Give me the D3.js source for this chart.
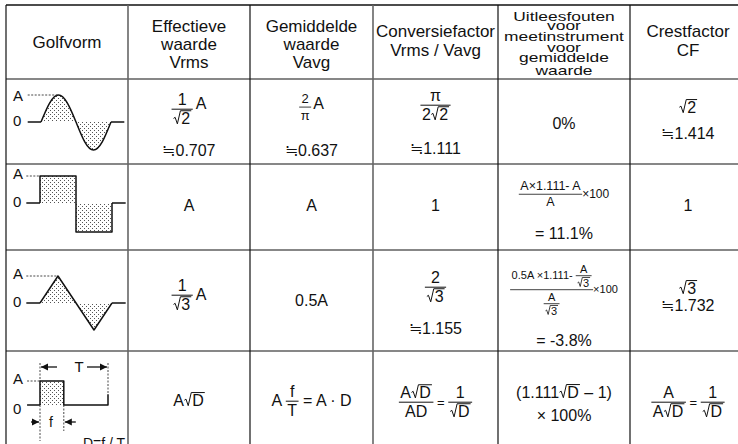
<!DOCTYPE html>
<html>
<head>
<meta charset="utf-8">
<script src="https://cdn.jsdelivr.net/npm/d3@7"></script>
<style>
  body { margin: 0; background: #fff; }
  svg { display: block; }
  text { font-family: "Liberation Sans", Arial, sans-serif; fill: #111; }
</style>
</head>
<body>
<svg id="chart" width="738" height="444"></svg>
<script>
// header labels, one array per column
var headers = [
  ["Golfvorm"],
  ["Effectieve", "waarde", "Vrms"],
  ["Gemiddelde", "waarde", "Vavg"],
  ["Conversiefactor", "Vrms / Vavg"],
  ["Uitleesfouten", "voor", "meetinstrument", "voor", "gemiddelde", "waarde"],
  ["Crestfactor", "CF"]
];

// waveforms: time as fraction of a period, value as fraction of A
var sineT = [0, 0.125, 0.25, 0.375, 0.5, 0.625, 0.75, 0.875, 1];
var sineV = [0, 0.71, 1, 0.71, 0, -0.71, -1, -0.71, 0];
var squareT = [0, 0, 0.5, 0.5, 1, 1];
var squareV = [0, 1, 1, -1, -1, 0];
var triangleT = [0, 0.25, 0.75, 1];
var triangleV = [0, 1, -1, 0];
var pulseT = [0, 0, 0.35, 0.35, 1, 1];
var pulseV = [0, 1, 1, 0, 0, 0.45];

// cell contents (lines of formula items)
var vrmsCells = [
  [[{frac: [["1"], [{sqrt: "2"}]]}, {sp: 3}, {t: "A", dy: -5}], ["≒0.707"]],
  [["A"]],
  [[{frac: [["1"], [{sqrt: "3"}]]}, {sp: 3}, "A"]],
  [["A", {sqrt: "D"}]]
];
var vavgCells = [
  [[{frac: [["2"], ["π"]], size: 13}, {sp: 2}, {t: "A", dy: -2}], ["≒0.637"]],
  [["A"]],
  [["0.5A"]],
  [["A ", {frac: [["f"], ["T"]]}, {t: " = A · D"}]]
];
var convCells = [
  [[{frac: [["π"], ["2", {sqrt: "2"}]]}], ["≒1.111"]],
  [["1"]],
  [[{frac: [["2"], [{sqrt: "3"}]]}], ["≒1.155"]],
  [[{frac: [["A", {sqrt: "D"}], ["AD"]]}, {t: " = ", size: 13}, {frac: [["1"], [{sqrt: "D"}]]}]]
];
var errorCells = [
  [["0%"]],
  [[{frac: [["A×1.111- A"], ["A"]], size: 12.5}, {t: "×100", size: 12}], ["= 11.1%"]],
  [[{frac: [["0.5A ×1.111- ", {frac: [["A"], [{sqrt: "3"}]]}], [{frac: [["A"], [{sqrt: "3"}]]}]], size: 11}, {t: "×100", size: 11}], ["= -3.8%"]],
  [["(1.111", {sqrt: "D"}, " – 1)"], ["× 100%"]]
];
var crestCells = [
  [[{sqrt: "2"}], ["≒1.414"]],
  [["1"]],
  [[{sqrt: "3"}], ["≒1.732"]],
  [[{frac: [["A"], ["A", {sqrt: "D"}]]}, {t: " = ", size: 13}, {frac: [["1"], [{sqrt: "D"}]]}]]
];

var svg = d3.select("#chart");
var ink = "#111";

var colX = [6, 128, 250, 373, 498, 630, 746];
var rowY = [5, 79, 164, 250, 351];
var colMid = d3.range(6).map(function(i) { return (colX[i] + colX[i + 1]) / 2; });

// stipple pattern
var pat = svg.append("defs").append("pattern")
  .attr("id", "dots").attr("width", 4).attr("height", 4)
  .attr("patternUnits", "userSpaceOnUse");
pat.append("rect").attr("x", 0).attr("y", 0).attr("width", 1).attr("height", 1).attr("fill", "#555");
pat.append("rect").attr("x", 2).attr("y", 2).attr("width", 1).attr("height", 1).attr("fill", "#555");

// grid
svg.append("line").attr("x1", colX[0]).attr("x2", 738).attr("y1", rowY[0]).attr("y2", rowY[0])
  .attr("stroke", ink).attr("stroke-width", 1.3);
rowY.slice(1).forEach(function(y) {
  svg.append("line").attr("x1", colX[0]).attr("x2", 738).attr("y1", y).attr("y2", y)
    .attr("stroke", ink).attr("stroke-width", 1.2);
});
colX.slice(0, 6).forEach(function(x, i) {
  var grey = (i == 1 || i == 3);
  svg.append("line").attr("x1", x).attr("x2", x).attr("y1", rowY[0]).attr("y2", 444)
    .attr("stroke", grey ? "#666" : ink).attr("stroke-width", grey ? 1.6 : 1.2);
});

// formula layout
function drawSeq(g, items, size) {
  var x = 0;
  items.forEach(function(it) {
    if (typeof it === "string") it = {t: it};
    var s = it.size || size;
    if (it.t != null) {
      var t = g.append("text").attr("x", x).attr("y", it.dy || 0)
        .attr("font-size", s).attr("xml:space", "preserve").text(it.t);
      x += t.node().getComputedTextLength();
    } else if (it.sqrt != null) {
      var rw = 0.52 * s;
      var t = g.append("text").attr("x", x + rw).attr("font-size", s).text(it.sqrt);
      var tw = t.node().getComputedTextLength();
      g.append("path")
        .attr("d", "M" + (x + 0.03 * s) + "," + (-0.36 * s) +
          "L" + (x + 0.13 * s) + "," + (-0.43 * s) +
          "L" + (x + 0.27 * s) + "," + (-0.02 * s) +
          "L" + (x + 0.46 * s) + "," + (-0.84 * s) +
          "H" + (x + rw + tw + 1))
        .attr("fill", "none").attr("stroke", ink)
        .attr("stroke-width", Math.max(0.8, s / 16));
      x += rw + tw + 1;
    } else if (it.frac) {
      var gn = g.append("g"), gd = g.append("g");
      var wn = drawSeq(gn, it.frac[0], s), wd = drawSeq(gd, it.frac[1], s);
      var w = Math.max(wn, wd) + 3;
      var bar = -0.3 * s;
      var bn = gn.node().getBBox(), bd = gd.node().getBBox();
      gn.attr("transform", "translate(" + (x + (w - wn) / 2) + "," + (bar - 1 - (bn.y + bn.height)) + ")");
      gd.attr("transform", "translate(" + (x + (w - wd) / 2) + "," + (bar + 1 - bd.y) + ")");
      g.append("line").attr("x1", x).attr("x2", x + w).attr("y1", bar).attr("y2", bar)
        .attr("stroke", ink).attr("stroke-width", Math.max(0.8, s / 16));
      x += w;
    } else if (it.sp) {
      x += it.sp;
    }
  });
  return x;
}

function put(items, size, cx, baseline) {
  var g = svg.append("g");
  var w = drawSeq(g, items, size);
  g.attr("transform", "translate(" + (cx - w / 2) + "," + baseline + ")");
}

// header
var hdrBase = [[48], [32, 50, 68], [32, 50, 68], [37, 56], [21, 30, 41, 52, 62, 75], [37, 56]];
headers.forEach(function(lines, c) {
  lines.forEach(function(s, k) {
    var t = svg.append("text").attr("text-anchor", "middle")
      .attr("font-size", c == 4 ? 12 : 17).text(s);
    if (c == 4) {
      t.attr("transform", "translate(" + colMid[c] + "," + hdrBase[c][k] + ") scale(1.45,1)");
    } else {
      t.attr("x", colMid[c]).attr("y", hdrBase[c][k]);
    }
  });
});

// body cells: baselines per row per column
var cols = [vrmsCells, vavgCells, convCells, errorCells, crestCells];
var cellBase = [
  [[114, 156], [111, 156], [110, 154], [129], [113, 139]],
  [[211], [211], [211], [198, 239], [211]],
  [[300], [306], [292, 334], [293, 346], [294, 311]],
  [[406], [406], [407], [398, 421], [407]]
];
cols.forEach(function(cells, c) {
  cells.forEach(function(lines, r) {
    lines.forEach(function(items, k) {
      put(items, 16, colMid[c + 1], cellBase[r][c][k]);
    });
  });
});

// waveforms
var waves = [
  {t: sineT, v: sineV, curve: d3.curveNatural, zero: 122, up: 27, dn: 28, x0: 41, x1: 111, tail: true},
  {t: squareT, v: squareV, curve: d3.curveLinear, zero: 203, up: 27, dn: 29, x0: 40, x1: 112, tail: true},
  {t: triangleT, v: triangleV, curve: d3.curveLinear, zero: 303, up: 27, dn: 27, x0: 40, x1: 112, tail: true},
  {t: pulseT, v: pulseV, curve: d3.curveLinear, zero: 405, up: 24, dn: 24, x0: 40, x1: 108, tail: false}
];

waves.forEach(function(w, r) {
  var x = d3.scaleLinear().domain([0, 1]).range([w.x0, w.x1]);
  var y = d3.scaleLinear().domain([-1, 0, 1]).range([w.zero + w.dn, w.zero, w.zero - w.up]);
  var pts = w.t.map(function(t, i) { return [t, w.v[i]]; });
  var shade = r == 3 ? pts.slice(0, 4) : pts;

  svg.append("path")
    .attr("d", d3.area().x(function(d) { return x(d[0]); }).y0(y(0)).y1(function(d) { return y(d[1]); }).curve(w.curve)(shade))
    .attr("fill", "url(#dots)");

  // zero-level lead-in and tail
  svg.append("path").attr("fill", "none").attr("stroke", ink).attr("stroke-width", 1.5)
    .attr("d", d3.line()([[x(-0.19), y(0)], [x(0), y(0)]]));
  if (w.tail) {
    svg.append("path").attr("fill", "none").attr("stroke", ink).attr("stroke-width", 1.5)
      .attr("d", d3.line()([[x(1), y(0)], [x(1.19), y(0)]]));
  }
  svg.append("path")
    .attr("d", d3.line().x(function(d) { return x(d[0]); }).y(function(d) { return y(d[1]); }).curve(w.curve)(pts))
    .attr("fill", "none").attr("stroke", ink).attr("stroke-width", 1.5).attr("stroke-linejoin", "round");

  // A level dashed guide
  var peakT = r == 0 || r == 2 ? 0.25 : 0;
  svg.append("line").attr("x1", x(-0.19)).attr("x2", x(peakT)).attr("y1", y(1)).attr("y2", y(1))
    .attr("stroke", "#333").attr("stroke-width", 0.9).attr("stroke-dasharray", "2,1.5");

  svg.append("text").attr("x", 13).attr("y", y(1) + (r == 0 ? 6 : 3)).attr("font-size", 15).text("A");
  svg.append("text").attr("x", 13).attr("y", y(0) + (r == 3 ? 9 : 4)).attr("font-size", 15).text("0");

  if (r == 3) {
    var dash = function(xx, ya, yb) {
      svg.append("line").attr("x1", xx).attr("x2", xx).attr("y1", ya).attr("y2", yb)
        .attr("stroke", "#333").attr("stroke-width", 0.9).attr("stroke-dasharray", "2,1.5");
    };
    var pw = pulseT[2];
    dash(x(0), y(1) - 18, y(1));
    dash(x(0), y(0), y(0) + 36);
    dash(x(pw), y(0), y(0) + 26);
    dash(x(1), y(1) - 18, y(0.45));
    var ta = y(1) - 14, fa = y(0) + 17;
    var arrow = function(tip, dir, yy, len) {
      svg.append("line").attr("x1", tip).attr("x2", tip + dir * len).attr("y1", yy).attr("y2", yy)
        .attr("stroke", ink).attr("stroke-width", 1.3);
      svg.append("path").attr("d", "M" + tip + "," + yy + "l" + (dir * 7) + ",-3.5v7z").attr("fill", ink);
    };
    arrow(x(0) + 1, 1, ta, 16);
    arrow(x(1) - 1, -1, ta, 20);
    svg.append("text").attr("x", (x(0) + x(1)) / 2 + 5).attr("y", ta + 5).attr("text-anchor", "middle")
      .attr("font-size", 15).text("T");
    arrow(x(0) - 1, -1, fa, 8);
    arrow(x(pw) + 1, 1, fa, 11);
    svg.append("text").attr("x", (x(0) + x(pw)) / 2 - 1).attr("y", fa + 5).attr("text-anchor", "middle")
      .attr("font-size", 14).text("f");
    svg.append("text").attr("x", 83).attr("y", y(0) + 43).attr("font-size", 14).text("D=f / T");
  }
});
</script>
</body>
</html>
